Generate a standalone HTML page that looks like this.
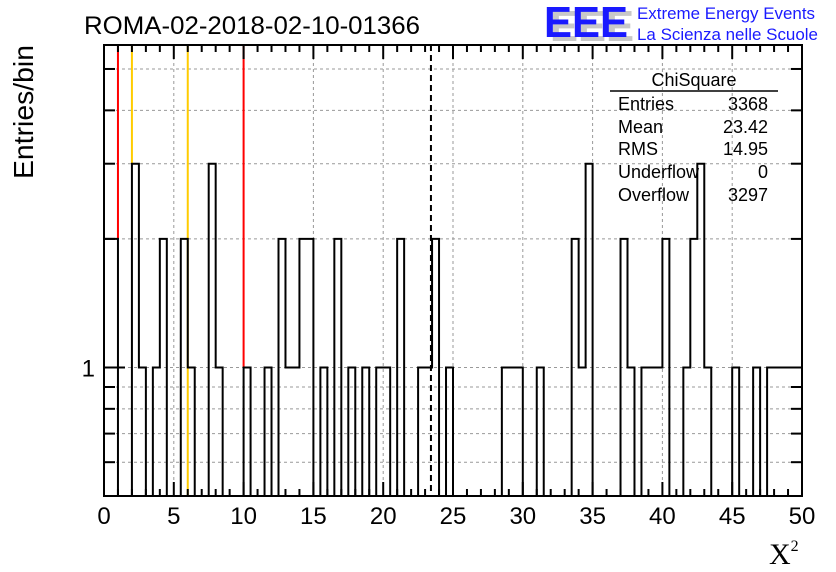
<!DOCTYPE html>
<html><head><meta charset="utf-8"><style>
body{margin:0;background:#fff}
svg{display:block;font-family:"Liberation Sans",sans-serif}
</style></head><body>
<svg id="c" width="836" height="572" viewBox="0 0 836 572">
<g id="grid"></g>
<g id="lines"></g>
<g id="hist"></g>
<g id="axes"></g>
<text x="84" y="34" font-size="25" textLength="336" lengthAdjust="spacingAndGlyphs">ROMA-02-2018-02-10-01366</text>
<g>
<text x="550" y="41" font-size="44" font-weight="bold" fill="#c8c8c8" textLength="84" lengthAdjust="spacingAndGlyphs">EEE</text>
<text x="544" y="37" font-size="44" font-weight="bold" fill="#1a1aff" textLength="84" lengthAdjust="spacingAndGlyphs">EEE</text>
<text x="637" y="19" font-size="17" fill="#1a1aff" textLength="178" lengthAdjust="spacingAndGlyphs">Extreme Energy Events</text>
<text x="637" y="40" font-size="17" fill="#1a1aff" textLength="181" lengthAdjust="spacingAndGlyphs">La Scienza nelle Scuole</text>
</g>
<g font-size="18">
<text x="694" y="86" text-anchor="middle">ChiSquare</text>
<line x1="610" y1="91" x2="778" y2="91" stroke="#000" stroke-width="1.5"/>
<text x="618" y="110">Entries</text><text x="768" y="110" text-anchor="end">3368</text>
<text x="618" y="133">Mean</text><text x="768" y="133" text-anchor="end">23.42</text>
<text x="618" y="155">RMS</text><text x="768" y="155" text-anchor="end">14.95</text>
<text x="618" y="178">Underflow</text><text x="768" y="178" text-anchor="end">0</text>
<text x="618" y="201">Overflow</text><text x="768" y="201" text-anchor="end">3297</text>
</g>
<text transform="translate(33,112) rotate(-90)" font-size="28" text-anchor="middle" textLength="134" lengthAdjust="spacingAndGlyphs">Entries/bin</text>
<text x="769" y="564" font-size="30" font-family="Liberation Serif,serif">X<tspan font-size="16" dy="-13">2</tspan></text>
</svg>
<script>
const binCounts=[2,2,0,0,3,1,0,1,2,0,0,2,1,0,0,3,1,0,0,0,1,0,0,1,0,2,1,1,2,2,0,1,0,2,0,1,0,1,0,1,1,0,2,0,0,1,1,2,0,1,0,0,0,0,0,0,0,1,1,1,0,0,1,0,0,0,0,2,1,3,0,0,0,0,2,1,0,1,1,1,2,0,0,1,2,3,1,0,0,0,1,0,0,1,0,1,1,1,1,1];
const xTicks=[0,5,10,15,20,25,30,35,40,45,50];
const yTickLabels=[1];
const yGridVals=[0.6,0.7,0.8,0.9,1,2,3,4,5];
const refLines=[{x:1,to:2,color:"#ff0000"},{x:2,to:3,color:"#ffcc00"},{x:6,to:0.5,color:"#ffcc00"},{x:10,to:1,color:"#ff0000"}];
const meanVal=23.42;
const xMin=0,xMax=50,yMin=0.5,yMax=5.69;
const L=104,R=802,T=45,B=496;
const sx=v=>L+(v-xMin)/(xMax-xMin)*(R-L);
const sy=v=>B-(Math.log10(v)-Math.log10(yMin))/(Math.log10(yMax)-Math.log10(yMin))*(B-T);
const NS="http://www.w3.org/2000/svg";
function mk(p,t,a){const e=document.createElementNS(NS,t);for(const k in a)e.setAttribute(k,a[k]);p.appendChild(e);return e;}
const grid=document.getElementById('grid'),axes=document.getElementById('axes'),hist=document.getElementById('hist'),lines=document.getElementById('lines');
for(const v of xTicks.slice(1,-1)){const g=mk(grid,'line',{x1:sx(v),x2:sx(v),y1:T,y2:B,stroke:'#999','stroke-dasharray':'3,3'});

}
for(const v of yGridVals){const g=mk(grid,'line',{x1:L,x2:R,y1:sy(v),y2:sy(v),stroke:'#999','stroke-dasharray':'3,3'});

}
for(const r of refLines){const l=mk(lines,'line',{x1:sx(r.x),x2:sx(r.x),y1:T,y2:sy(r.to),stroke:r.color,'stroke-width':2});

}
const ml=mk(lines,'line',{x1:sx(meanVal),x2:sx(meanVal),y1:T,y2:B,stroke:'#000','stroke-width':2,'stroke-dasharray':'6,4'});


const bw=(xMax-xMin)/binCounts.length;
const yv=c=>c>0?sy(c):B;
let d='M'+sx(0)+','+B;
binCounts.forEach((c,i)=>{const y=yv(c);d+=' L'+sx(i*bw)+','+y+' L'+sx((i+1)*bw)+','+y;});
d+=' L'+sx(xMax)+','+B;
const hp=mk(hist,'path',{d:d,fill:'none',stroke:'#000','stroke-width':2});


const fr=mk(axes,'rect',{x:L,y:T,width:R-L,height:B-T,fill:'none',stroke:'#000','stroke-width':2});


for(let v=0;v<=50;v++){const len=v%5===0?14:7;
mk(axes,'line',{x1:sx(v),x2:sx(v),y1:B,y2:B-len,stroke:'#000','stroke-width':2});
mk(axes,'line',{x1:sx(v),x2:sx(v),y1:T,y2:T+len,stroke:'#000','stroke-width':2});}
for(const v of yGridVals){const len=v===1?21:11;
mk(axes,'line',{x1:L,x2:L+len,y1:sy(v),y2:sy(v),stroke:'#000','stroke-width':2});
mk(axes,'line',{x1:R,x2:R-len,y1:sy(v),y2:sy(v),stroke:'#000','stroke-width':2});}
for(const v of xTicks){const t=mk(axes,'text',{x:sx(v),y:524,'font-size':24,'text-anchor':'middle'});t.textContent=v;

}
for(const v of yTickLabels){const t=mk(axes,'text',{x:95,y:sy(v)+9,'font-size':24,'text-anchor':'end'});t.textContent=v;

}
</script>
</body></html>
